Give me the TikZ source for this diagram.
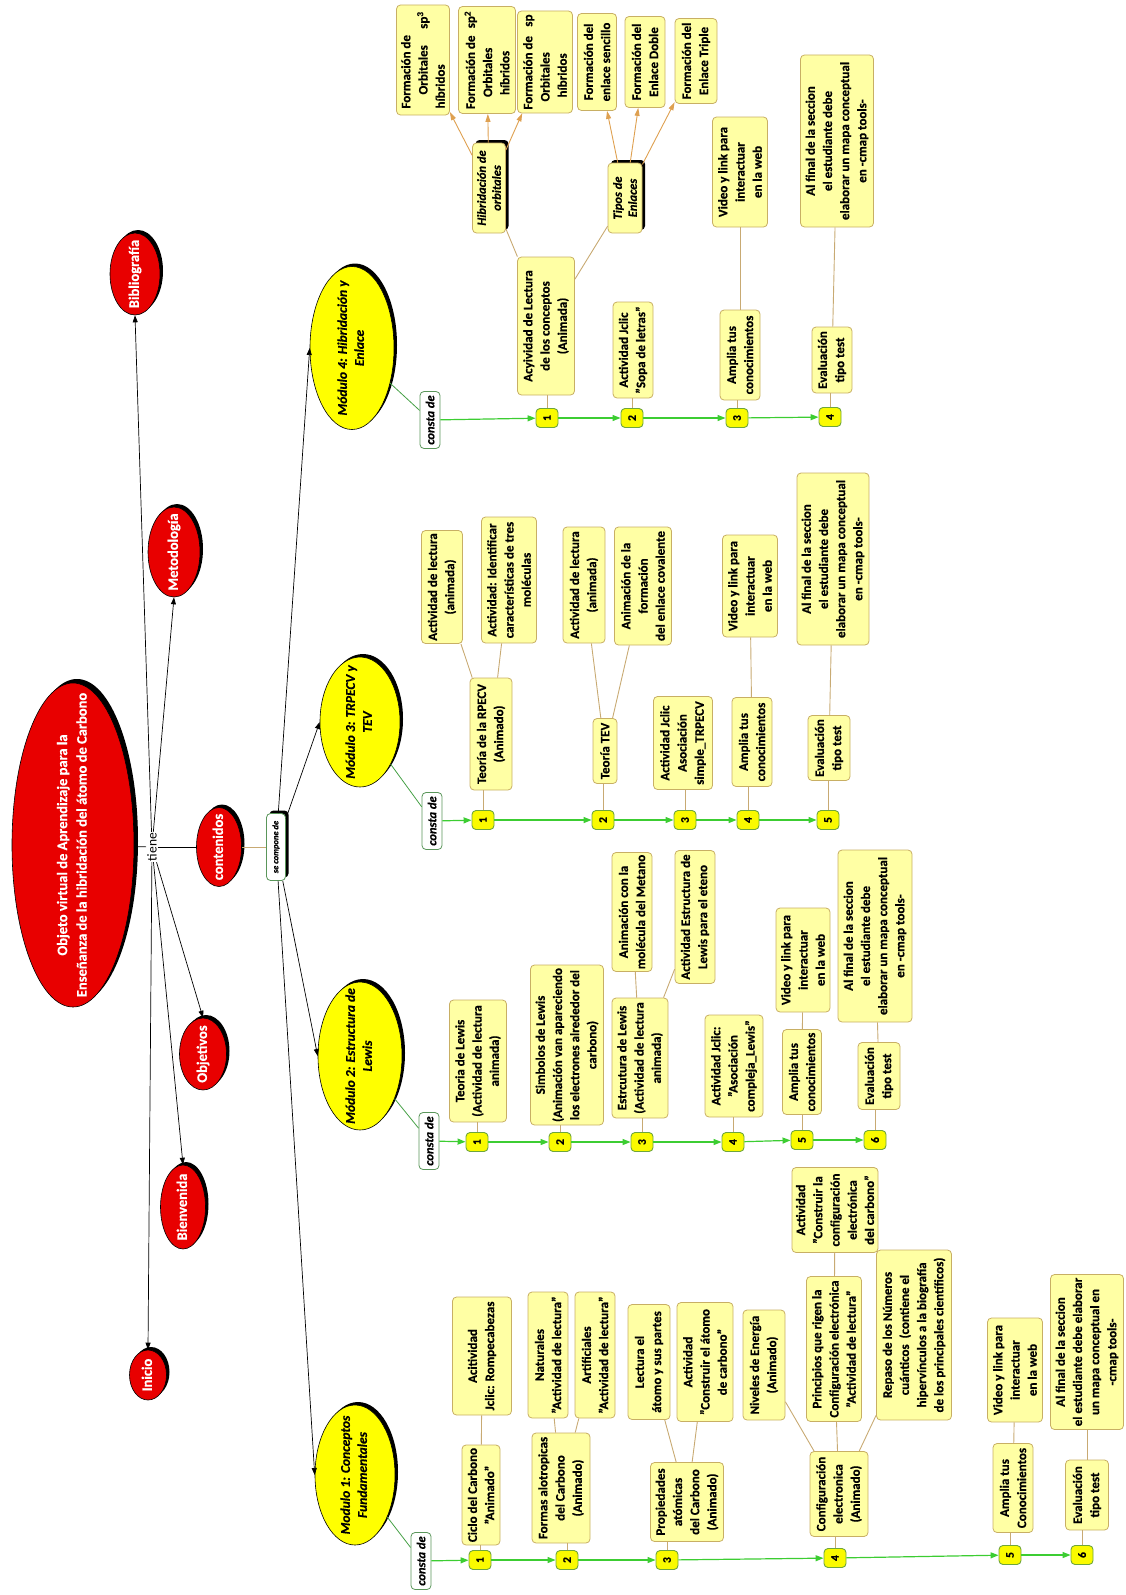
\documentclass[tikz,border=0pt]{standalone}
\usepackage{fontspec}
\setmainfont{Carlito}[BoldFeatures={FakeBold=0.5},BoldItalicFeatures={FakeBold=0.5}]
\usetikzlibrary{shapes.geometric,arrows.meta}
\definecolor{redfill}{RGB}{232,0,0}
\definecolor{modfill}{RGB}{255,255,0}
\definecolor{boxfill}{RGB}{255,255,164}
\definecolor{boxdraw}{RGB}{200,175,100}
\definecolor{tanline}{RGB}{200,170,115}
\definecolor{orgline}{RGB}{222,160,80}
\definecolor{grnarrow}{RGB}{60,205,50}
\definecolor{grnline}{RGB}{70,160,70}
\definecolor{numfill}{RGB}{250,250,0}
\definecolor{numdraw}{RGB}{110,165,60}
\definecolor{lkdraw}{RGB}{90,150,90}
\newcommand\bxfont{\fontsize{13}{17.2}\selectfont\bfseries}
\newcommand\bxn[6]{\node[bx, minimum width=#5pt, minimum height=#4pt] (#1) at (#2,-#3) {#6};}
\newcommand\rshadow[4]{\fill[black] ({#1+3},{-#2+3}) ellipse [x radius={#3/2}, y radius={#4/2}];}
\newcommand\bshadow[4]{\fill[black, rounded corners=4pt] ({#1-#3/2+3},{-#2-#4/2+3}) rectangle ({#1+#3/2+3},{-#2+#4/2+3});}
\newcommand\numn[4]{\node[num] (#1) at (#2,-#3) {#4};}
\newcommand\zl[1]{\makebox[0pt]{\begin{tabular}{@{}c@{}}#1\end{tabular}}}
\begin{document}
\begin{tikzpicture}[x=1pt,y=1pt,
  bx/.style={draw=boxdraw, fill=boxfill, rounded corners=4pt, line width=0.8pt, rotate=90, align=center, inner sep=1pt, font=\bxfont},
  lkn/.style={draw=boxdraw, fill=boxfill, rounded corners=4pt, line width=0.8pt, rotate=90, align=center, inner sep=1pt, font=\fontsize{12.5}{15}\selectfont\bfseries\itshape},
  cst/.style={draw=lkdraw, fill=white, rounded corners=4pt, line width=0.8pt, rotate=90, inner sep=1pt, minimum width=57pt, minimum height=20pt, font=\fontsize{12.5}{12.5}\selectfont\bfseries\itshape},
  num/.style={draw=numdraw, fill=numfill, rounded corners=4pt, line width=0.9pt, rotate=90, inner sep=0pt, minimum width=19pt, minimum height=22pt, font=\fontsize{11.5}{11.5}\selectfont\bfseries},
  redel/.style={ellipse, draw=black, line width=0.6pt, fill=redfill, text=white, rotate=90, inner sep=0pt, font=\fontsize{14.5}{19.5}\selectfont\bfseries},
  model/.style={ellipse, draw=black, line width=0.6pt, fill=modfill, rotate=90, inner sep=0pt, font=\fontsize{13.5}{17}\selectfont\bfseries\itshape},
  tan/.style={draw=tanline, line width=0.9pt},
  blk/.style={draw=black, line width=0.7pt, -{Triangle[length=7pt,width=5pt]}},
  grn/.style={draw=grnarrow, line width=1.2pt, -{Triangle[length=8pt,width=6pt]}},
  grnthin/.style={draw=grnline, line width=0.8pt},
  org/.style={draw=orgline, line width=0.9pt, -{Triangle[length=8pt,width=5pt]}}]
\useasboundingbox (0,0) rectangle (1125,-1595);

% ---------- red nodes ----------
\fill[black] (77,-841) ellipse [x radius=61, y radius=162];
\node[redel, minimum width=324pt, minimum height=122pt] (root) at (73,-845) {\zl{Objeto virtual de Aprendizaje para la\\Enseñanza de la hibridación del átomo de Carbono}};
\node[rotate=90, inner sep=1pt, font=\fontsize{13.5}{13.5}\selectfont] (tiene) at (152,-847) {tiene};
\rshadow{135}{274}{50}{82}
\node[redel, minimum width=82pt, minimum height=50pt] (bib) at (135,-274) {\zl{Bibliografía}};
\rshadow{174}{552}{52}{90}
\node[redel, minimum width=90pt, minimum height=52pt] (met) at (174,-552) {\zl{Metodología}};
\rshadow{219}{847}{45}{79}
\node[redel, minimum width=79pt, minimum height=45pt] (cont) at (219,-847) {\zl{contenidos}};
\rshadow{203}{1054}{47}{72}
\node[redel, minimum width=72pt, minimum height=47pt] (obj) at (203,-1054) {\zl{Objetivos}};
\rshadow{183}{1207}{45}{84}
\node[redel, minimum width=84pt, minimum height=45pt] (bien) at (183,-1207) {\zl{Bienvenida}};
\rshadow{148}{1375}{37}{50}
\node[redel, minimum width=50pt, minimum height=37pt] (ini) at (148,-1375) {\zl{Inicio}};

% ---------- se compone de ----------
\bshadow{276}{847}{19}{67}
\node[draw=lkdraw, fill=white, rounded corners=4pt, line width=0.8pt, rotate=90, inner sep=1pt, minimum width=67pt, minimum height=19pt, font=\fontsize{8.5}{8.5}\selectfont\bfseries\itshape] (sc) at (276,-847) {se compone de};

% ---------- modules ----------
\rshadow{355}{1475}{80}{140}
\node[model, minimum width=140pt, minimum height=80pt] (m1) at (355,-1475) {\zl{Modulo 1: Conceptos\\Fundamentales}};
\rshadow{360}{1056}{84}{148}
\node[model, minimum width=148pt, minimum height=84pt] (m2) at (360,-1056) {\zl{Módulo 2: Estructura de\\Lewis}};
\rshadow{360}{722}{80}{130}
\node[model, minimum width=130pt, minimum height=80pt] (m3) at (360,-722) {\zl{Módulo 3: TRPECV y\\TEV}};
\rshadow{352}{348}{84}{163}
\node[model, minimum width=163pt, minimum height=84pt] (m4) at (352,-348) {\zl{Módulo 4: Hibridación y\\Enlace}};

% ---------- consta de ----------
\node[cst] (c4) at (430,-420) {consta de};
\node[cst] (c3) at (432,-821) {consta de};
\node[cst] (c2) at (429,-1141) {consta de};
\node[cst] (c1) at (421,-1561) {consta de};

% ---------- numbers ----------
\numn{n41}{547}{418}{1}\numn{n42}{632}{418}{2}\numn{n43}{737}{418}{3}\numn{n44}{830}{417}{4}
\numn{n31}{483}{820}{1}\numn{n32}{603}{820}{2}\numn{n33}{685}{820}{3}\numn{n34}{748}{820}{4}\numn{n35}{828}{820}{5}
\numn{n21}{477}{1142}{1}\numn{n22}{560}{1142}{2}\numn{n23}{642}{1142}{3}\numn{n24}{733}{1142}{4}\numn{n25}{802}{1140}{5}\numn{n26}{875}{1140}{6}
\numn{n11}{480}{1560}{1}\numn{n12}{567}{1560}{2}\numn{n13}{667}{1560}{3}\numn{n14}{835}{1558}{4}\numn{n15}{1010}{1555}{5}\numn{n16}{1082}{1555}{6}

% ---------- module 4 boxes ----------
\bxn{m4a}{546}{326}{57}{138}{Acyividad de Lectura\\de los conceptos\\(Animada)}
\bshadow{489}{188}{33}{90}
\node[lkn, minimum width=90pt, minimum height=33pt] (hib) at (489,-188) {Hibridación de\\orbitales};
\bshadow{625}{198}{34}{70}
\node[lkn, minimum width=70pt, minimum height=34pt] (tip) at (625,-198) {Tipos de\\Enlaces};
\bxn{f1}{423}{60}{53}{110}{\parbox{97pt}{Formación de\\\hspace*{14pt}Orbitales\hfill sp\textsuperscript{3}\\híbridos}}
\bxn{f2}{487}{60}{57}{107}{\parbox{98pt}{Formación de\hfill sp\textsuperscript{2}\\\hspace*{12pt}Orbitales\\\hspace*{14pt}híbridos}}
\bxn{f3}{545}{62}{55}{102}{\parbox{95pt}{Formación de\hfill sp\\\hspace*{8pt}Orbitales\\\hspace*{12pt}híbridos}}
\bxn{f4}{597}{62}{39}{97}{Formación del\\enlace sencillo}
\bxn{f5}{645}{62}{40}{91}{Formación del\\Enlace Doble}
\bxn{f6}{696}{61}{42}{85}{Formación del\\Enlace Triple}
\bxn{m4b}{633}{350}{40}{96}{Actividad Jclic\\"Sopa de letras"}
\bxn{m4c}{740}{355}{40}{90}{Amplia tus\\conocimientos}
\bxn{m4cv}{740}{172}{55}{110}{Video y link para\\interactuar\\en la web}
\bxn{m4d}{832}{360}{40}{66}{Evaluación\\tipo test}
\bxn{m4dv}{837}{141}{73}{172}{Al final de la seccion\\el estudiante debe\\elaborar un mapa conceptual\\en -cmap tools-}

% ---------- module 3 boxes ----------
\bxn{m3a}{491}{734}{42}{112}{Teoría de la RPECV\\(Animado)}
\bxn{m3a1}{442}{587}{41}{113}{Actividad de lectura\\(animada)}
\bxn{m3a2}{509}{580}{55}{126}{Actividad: Identificar\\características de tres\\moléculas}
\bxn{m3b}{605}{751}{24}{65}{Teoría TEV}
\bxn{m3b1}{584}{585}{42}{116}{Actividad de lectura\\(animada)}
\bxn{m3b2}{643}{586}{57}{118}{Animación de la\\formación\\del enlace covalente}
\bxn{m3c}{683}{743}{59}{93}{Actividad Jclic\\Asociación\\simple\_TRPECV}
\bxn{m3d}{752}{742}{40}{89}{Amplia tus\\conocimientos}
\bxn{m3dv}{750}{586}{55}{102}{Video y link para\\interactuar\\en la web}
\bxn{m3e}{829}{748}{42}{65}{Evaluación\\tipo test}
\bxn{m3ev}{833}{559}{72}{172}{Al final de la seccion\\el estudiante debe\\elaborar un mapa conceptual\\en -cmap tools-}

% ---------- module 2 boxes ----------
\bxn{m2a}{478}{1061}{57}{122}{Teoria de Lewis\\(Actividad de lectura\\animada)}
\bxn{m2b}{567}{1045}{73}{160}{Simbolos de Lewis\\(Animación van apareciendo\\los electrones alrededor del\\carbono)}
\bxn{m2c}{640}{1058}{56}{120}{Estrcutura de Lewis\\(Actividad de lectura\\animada)}
\bxn{m2c1}{632}{912}{40}{119}{Animación con la\\molécula del Metano}
\bxn{m2c2}{695}{917}{40}{133}{Actividad Estructura de\\Lewis para el eteno}
\bxn{m2d}{734}{1066}{58}{102}{Actividad Jclic:\\"Asociación\\compleja\_Lewis"}
\bxn{m2e}{802}{1072}{39}{85}{Amplia tus\\conocimientos}
\bxn{m2ev}{803}{960}{54}{104}{Video y link para\\interactuar\\en la web}
\bxn{m2f}{879}{1076}{42}{67}{Evaluación\\tipo test}
\bxn{m2fv}{875}{936}{74}{172}{Al final de la seccion\\el estudiante debe\\elaborar un mapa conceptual\\en -cmap tools-}

% ---------- module 1 boxes ----------
\bxn{m1a}{481}{1495}{38}{100}{Ciclo del Carbono\\"Animado"}
\bxn{m1a1}{482}{1356}{59}{118}{Acitividad\\Jclic: Rompecabezas}
\bxn{m1b}{561}{1488}{58}{110}{Formas alotropicas\\del Carbono\\(Animado)}
\bxn{m1b1}{548}{1355}{40}{126}{Naturales\\"Actividad de lectura"}
\bxn{m1b2}{595}{1355}{40}{126}{Artificiales\\"Actividad de lectura"}
\bxn{m1c}{687}{1502}{73}{79}{Propiedades\\atómicas\\del Carbono\\(Animado)}
\bxn{m1c1}{649}{1362}{42}{115}{Lectura el\\átomo y sus partes}
\bxn{m1c2}{705}{1362}{56}{119}{Actividad\\"Construir el átomo\\de carbono"}
\bxn{m1d}{839}{1494}{58}{85}{Configuración\\electronica\\(Animado)}
\bxn{m1d1}{764}{1365}{42}{110}{Niveles de Energía\\(Animado)}
\bxn{m1d2}{834}{1349}{55}{145}{Principios que rigen la\\Configuración electrónica\\"Actividad de lectura"}
\bxn{m1d3}{914}{1335}{75}{170}{Repaso de los Números\\cuánticos\ \ (contiene el\\hipervínculos a la biografía\\de los principales científicos)}
\bxn{m1d21}{835}{1210}{86}{85}{Actividad\\"Construir la\\configuración\\electrónica\\del carbono"}
\bxn{m1e}{1013}{1488}{40}{89}{Amplia tus\\Conocimientos}
\bxn{m1ev}{1015}{1370}{55}{104}{Video y link para\\interactuar\\en la web}
\bxn{m1f}{1087}{1495}{43}{70}{Evaluación\\tipo test}
\bxn{m1fv}{1087}{1352}{73}{155}{Al final de la seccion\\el estudiante debe elaborar\\un mapa conceptual en\\-cmap tools-}

% ---------- connectors: top level ----------
\draw[line width=0.7pt] (root) -- (tiene);
\draw[blk] (tiene) -- (bib.west);
\draw[blk] (tiene) -- (met.west);
\draw[line width=0.7pt] (tiene) -- (cont.north);
\draw[blk] (tiene) -- (obj.east);
\draw[blk] (tiene) -- (bien.east);
\draw[blk] (tiene) -- (ini.east);
\draw[tan] (cont) -- (sc);
\draw[blk] (sc) -- (m4.north);
\draw[blk] (sc) -- (m3.north);
\draw[blk] (sc) -- (m2.north);
\draw[blk] (sc) -- (m1.north);
\draw[grnthin] (m4) -- (c4);
\draw[grnthin] (m3) -- (c3);
\draw[grnthin] (m2) -- (c2);
\draw[grnthin] (m1) -- (c1);

% ---------- green chains ----------
\draw[grn] (c4) -- (n41); \draw[grn] (n41) -- (n42); \draw[grn] (n42) -- (n43); \draw[grn] (n43) -- (n44);
\draw[grn] (c3) -- (n31); \draw[grn] (n31) -- (n32); \draw[grn] (n32) -- (n33); \draw[grn] (n33) -- (n34); \draw[grn] (n34) -- (n35);
\draw[grn] (c2) -- (n21); \draw[grn] (n21) -- (n22); \draw[grn] (n22) -- (n23); \draw[grn] (n23) -- (n24); \draw[grn] (n24) -- (n25); \draw[grn] (n25) -- (n26);
\draw[grn] (c1) -- (n11); \draw[grn] (n11) -- (n12); \draw[grn] (n12) -- (n13); \draw[grn] (n13) -- (n14); \draw[grn] (n14) -- (n15); \draw[grn] (n15) -- (n16);

% ---------- tan lines ----------
\foreach \n/\b in {n41/m4a,n42/m4b,n43/m4c,n44/m4d,n31/m3a,n32/m3b,n33/m3c,n34/m3d,n35/m3e,n21/m2a,n22/m2b,n23/m2c,n24/m2d,n25/m2e,n26/m2f,n11/m1a,n12/m1b,n13/m1c,n14/m1d,n15/m1e,n16/m1f}
  \draw[tan] (\n) -- (\n |- \b.west);
\foreach \a/\b in {m4a/hib,m4a/tip,m4c/m4cv,m4d/m4dv,m3a/m3a1,m3a/m3a2,m3b/m3b1,m3b/m3b2,m3d/m3dv,m3e/m3ev,m2c/m2c1,m2c/m2c2,m2e/m2ev,m2f/m2fv,m1a/m1a1,m1b/m1b1,m1b/m1b2,m1c/m1c1,m1c/m1c2,m1d/m1d1,m1d/m1d2,m1d/m1d3,m1d2/m1d21,m1e/m1ev,m1f/m1fv}
  \draw[tan] (\a) -- (\b);

% ---------- orange arrows ----------
\draw[org] (hib) -- (f1); \draw[org] (hib) -- (f2); \draw[org] (hib) -- (f3);
\draw[org] (tip) -- (f4); \draw[org] (tip) -- (f5); \draw[org] (tip) -- (f6);
\end{tikzpicture}
\end{document}
